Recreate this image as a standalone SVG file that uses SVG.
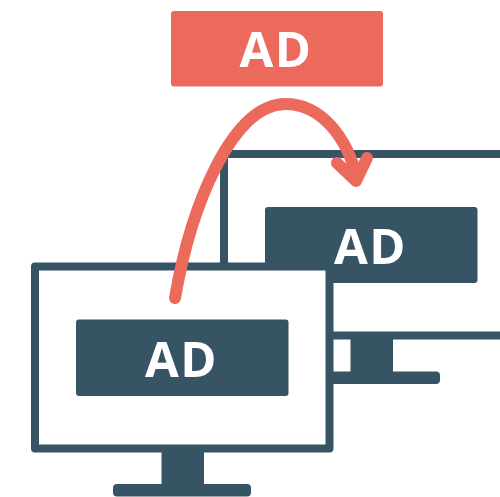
<svg xmlns="http://www.w3.org/2000/svg" width="500" height="497" viewBox="0 0 500 497">
<style>
.d{fill:#365464}
.frame{fill:#fff;stroke:#365464;stroke-width:8;stroke-linejoin:round}
.t{font-family:"Open Sans","Liberation Sans",sans-serif;font-size:49px;font-weight:700;letter-spacing:1.500px;fill:#fff;text-anchor:middle}
.a{fill:none;stroke:#ec6a5c;stroke-width:12;stroke-linecap:round;stroke-linejoin:round}
</style>
<rect width="500" height="497" fill="#fff"/>
<g id="ad-source"><rect x="171" y="11" width="212" height="75.500" rx="3" fill="#ec6a5c"/><text class="t" x="276" y="67">AD</text></g>
<g id="monitor-back">
<rect class="d" x="350.500" y="336" width="42.500" height="38"/>
<rect class="d" x="302" y="371.500" width="138" height="12.500" rx="4"/>
<rect class="frame" x="224" y="154" width="300" height="181.500"/>
<rect class="d" x="265" y="207" width="212.500" height="76" rx="3"/>
<text class="t" x="370.500" y="264">AD</text>
</g>
<g id="monitor-front">
<rect class="d" x="161.500" y="450" width="42.500" height="36"/>
<rect class="d" x="113" y="484" width="138" height="12.500" rx="4"/>
<rect class="frame" x="35" y="266.500" width="294.500" height="182"/>
<rect class="d" x="76" y="319.500" width="212.500" height="76.500" rx="3"/>
<text class="t" x="181.500" y="377">AD</text>
</g>
<g id="connectors">
<path class="a" d="M175 298C191 205 232 105 285 104C322 104 347 138 357 178"/>
<path class="a" d="M337 163L356 181L367 158"/>
</g>
</svg>
